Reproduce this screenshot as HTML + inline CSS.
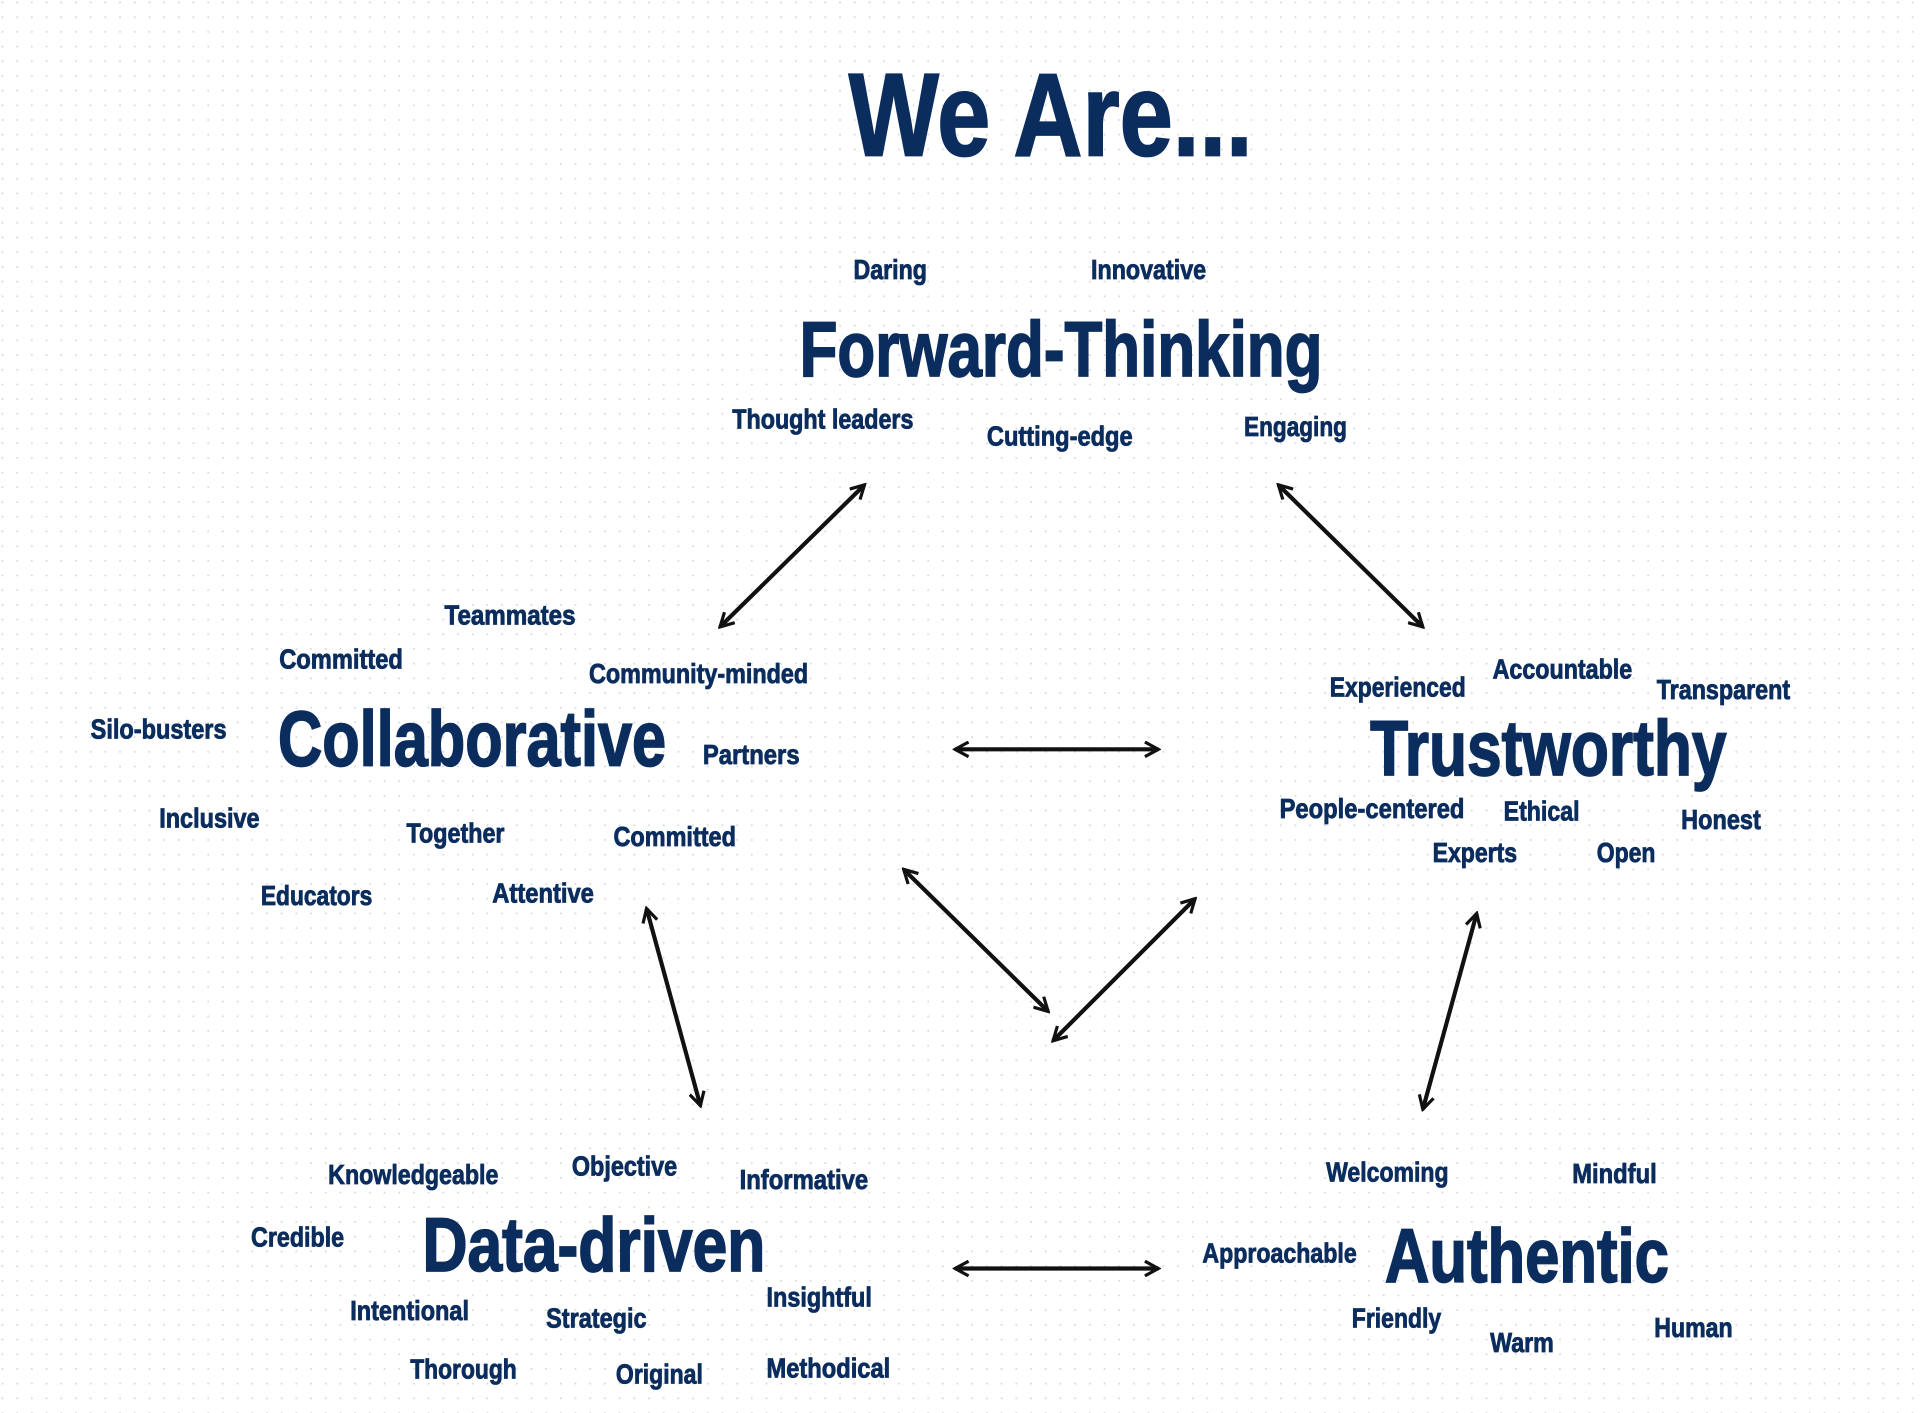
<!DOCTYPE html>
<html><head><meta charset="utf-8"><style>
html,body{margin:0;padding:0;background:#fff;width:1920px;height:1413px;overflow:hidden}
svg{display:block}
text{font-family:"Liberation Sans Narrow","Liberation Sans",sans-serif;font-weight:bold;fill:#0b2d5e;stroke:#0b2d5e;stroke-width:0.7px}
.b{stroke-width:1.4px}
.s{font-size:23px}
</style></head><body>
<svg width="1920" height="1413" viewBox="0 0 1568 1154" xmlns="http://www.w3.org/2000/svg">
<defs>
<pattern id="d" width="12" height="12" patternUnits="userSpaceOnUse"><circle cx="2" cy="2" r="0.8" fill="#d4d8de"/></pattern>
<marker id="a" viewBox="0 0 14 14" refX="12" refY="7" markerWidth="14" markerHeight="14" markerUnits="userSpaceOnUse" orient="auto-start-reverse"><path d="M1,1 L12,7 L1,13" fill="none" stroke="#111" stroke-width="2.6"/></marker>
</defs>
<rect width="1568" height="1154" fill="url(#d)"/>
<g stroke="#111" stroke-width="3.4" fill="none" marker-start="url(#a)" marker-end="url(#a)">
<line x1="706" y1="396" x2="588" y2="512"/>
<line x1="1044" y1="396" x2="1162" y2="512"/>
<line x1="780" y1="612" x2="946" y2="612"/>
<line x1="738" y1="710" x2="856" y2="826"/>
<line x1="976" y1="734" x2="860" y2="850"/>
<line x1="528" y1="742" x2="572" y2="903"/>
<line x1="1206" y1="746" x2="1162" y2="906"/>
<line x1="780" y1="1036" x2="946" y2="1036"/>
</g>
<text class="b" x="693" y="127" font-size="96" textLength="330" lengthAdjust="spacingAndGlyphs">We Are...</text>
<text class="b" x="653" y="307" font-size="64" textLength="427" lengthAdjust="spacingAndGlyphs">Forward-Thinking</text>
<text class="b" x="227" y="625" font-size="64" textLength="317" lengthAdjust="spacingAndGlyphs">Collaborative</text>
<text class="b" x="1119" y="633" font-size="64" textLength="291" lengthAdjust="spacingAndGlyphs">Trustworthy</text>
<text class="b" x="345" y="1038" font-size="62" textLength="280" lengthAdjust="spacingAndGlyphs">Data-driven</text>
<text class="b" x="1131" y="1047" font-size="62" textLength="232" lengthAdjust="spacingAndGlyphs">Authentic</text>
<g class="s">
<text class="s" x="697" y="228" textLength="60" lengthAdjust="spacingAndGlyphs">Daring</text>
<text class="s" x="891" y="228" textLength="94" lengthAdjust="spacingAndGlyphs">Innovative</text>
<text class="s" x="598" y="350" textLength="148" lengthAdjust="spacingAndGlyphs">Thought leaders</text>
<text class="s" x="806" y="364" textLength="119" lengthAdjust="spacingAndGlyphs">Cutting-edge</text>
<text class="s" x="1016" y="356" textLength="84" lengthAdjust="spacingAndGlyphs">Engaging</text>
<text class="s" x="363" y="510" textLength="107" lengthAdjust="spacingAndGlyphs">Teammates</text>
<text class="s" x="228" y="546" textLength="101" lengthAdjust="spacingAndGlyphs">Committed</text>
<text class="s" x="481" y="558" textLength="179" lengthAdjust="spacingAndGlyphs">Community-minded</text>
<text class="s" x="74" y="603" textLength="111" lengthAdjust="spacingAndGlyphs">Silo-busters</text>
<text class="s" x="574" y="624" textLength="79" lengthAdjust="spacingAndGlyphs">Partners</text>
<text class="s" x="130" y="676" textLength="82" lengthAdjust="spacingAndGlyphs">Inclusive</text>
<text class="s" x="332" y="688" textLength="80" lengthAdjust="spacingAndGlyphs">Together</text>
<text class="s" x="501" y="691" textLength="100" lengthAdjust="spacingAndGlyphs">Committed</text>
<text class="s" x="213" y="739" textLength="91" lengthAdjust="spacingAndGlyphs">Educators</text>
<text class="s" x="402" y="737" textLength="83" lengthAdjust="spacingAndGlyphs">Attentive</text>
<text class="s" x="1086" y="569" textLength="111" lengthAdjust="spacingAndGlyphs">Experienced</text>
<text class="s" x="1219" y="554" textLength="114" lengthAdjust="spacingAndGlyphs">Accountable</text>
<text class="s" x="1353" y="571" textLength="109" lengthAdjust="spacingAndGlyphs">Transparent</text>
<text class="s" x="1045" y="668" textLength="151" lengthAdjust="spacingAndGlyphs">People-centered</text>
<text class="s" x="1228" y="670" textLength="62" lengthAdjust="spacingAndGlyphs">Ethical</text>
<text class="s" x="1373" y="677" textLength="65" lengthAdjust="spacingAndGlyphs">Honest</text>
<text class="s" x="1170" y="704" textLength="69" lengthAdjust="spacingAndGlyphs">Experts</text>
<text class="s" x="1304" y="704" textLength="48" lengthAdjust="spacingAndGlyphs">Open</text>
<text class="s" x="268" y="967" textLength="139" lengthAdjust="spacingAndGlyphs">Knowledgeable</text>
<text class="s" x="467" y="960" textLength="86" lengthAdjust="spacingAndGlyphs">Objective</text>
<text class="s" x="604" y="971" textLength="105" lengthAdjust="spacingAndGlyphs">Informative</text>
<text class="s" x="205" y="1018" textLength="76" lengthAdjust="spacingAndGlyphs">Credible</text>
<text class="s" x="286" y="1078" textLength="97" lengthAdjust="spacingAndGlyphs">Intentional</text>
<text class="s" x="446" y="1084" textLength="82" lengthAdjust="spacingAndGlyphs">Strategic</text>
<text class="s" x="626" y="1067" textLength="86" lengthAdjust="spacingAndGlyphs">Insightful</text>
<text class="s" x="335" y="1126" textLength="87" lengthAdjust="spacingAndGlyphs">Thorough</text>
<text class="s" x="503" y="1130" textLength="71" lengthAdjust="spacingAndGlyphs">Original</text>
<text class="s" x="626" y="1125" textLength="101" lengthAdjust="spacingAndGlyphs">Methodical</text>
<text class="s" x="1083" y="965" textLength="100" lengthAdjust="spacingAndGlyphs">Welcoming</text>
<text class="s" x="1284" y="966" textLength="69" lengthAdjust="spacingAndGlyphs">Mindful</text>
<text class="s" x="982" y="1031" textLength="126" lengthAdjust="spacingAndGlyphs">Approachable</text>
<text class="s" x="1104" y="1084" textLength="73" lengthAdjust="spacingAndGlyphs">Friendly</text>
<text class="s" x="1217" y="1104" textLength="52" lengthAdjust="spacingAndGlyphs">Warm</text>
<text class="s" x="1351" y="1092" textLength="64" lengthAdjust="spacingAndGlyphs">Human</text>
</g>
</svg>
</body></html>
